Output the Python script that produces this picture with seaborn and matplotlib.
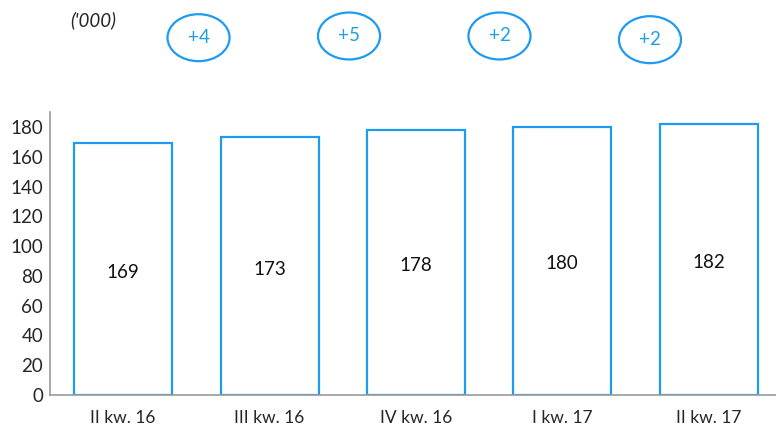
import pandas as pd
import seaborn as sns
import matplotlib.pyplot as plt
from matplotlib.patches import Ellipse
import matplotlib.transforms as mtransforms

# data
quarters = ['II kw. 16', 'III kw. 16', 'IV kw. 16', 'I kw. 17', 'II kw. 17']
values = [169, 173, 178, 180, 182]
changes = ['+4', '+5', '+2', '+2']

df = pd.DataFrame({'quarter': quarters, 'value': values})

sns.set_style('white')
plt.rcParams['font.family'] = ['Lato', 'DejaVu Sans']

blue = '#1E9BF0'

fig = plt.figure(figsize=(7.76, 4.28), dpi=100)
ax = fig.add_axes([0.0644, 0.0771, 0.9356, 0.661])

sns.barplot(data=df, x='quarter', y='value', color='white', edgecolor=blue,
            linewidth=1.6, width=0.67, ax=ax)

# value labels inside the bars
for i, v in enumerate(values):
    ax.text(i, v / 2 - 2, str(v), ha='center', va='center', fontsize=13.5, color='#111111')

ax.set_ylim(0, 190)
ax.set_xlim(-0.5, 4.46)
ax.set_yticks(range(0, 181, 20))
ax.set_xlabel('')
ax.set_ylabel('')
ax.tick_params(axis='y', labelsize=13.5, length=0, pad=5)
ax.tick_params(axis='x', labelsize=12.5, length=0, pad=11)
for s in ['top', 'right']:
    ax.spines[s].set_visible(False)
for s in ['left', 'bottom']:
    ax.spines[s].set_color('#999999')
    ax.spines[s].set_linewidth(1.2)

# change bubbles between bars (slightly spread out to the right, as in the original)
trans = mtransforms.blended_transform_factory(ax.transData, ax.transAxes)
ys = [1.263, 1.269, 1.269, 1.256]
for i, (c, y) in enumerate(zip(changes, ys)):
    x = 0.515 + i * 1.028
    e = Ellipse((x, y), width=0.424, height=0.166, transform=trans,
                fill=False, edgecolor=blue, linewidth=1.6, clip_on=False)
    ax.add_patch(e)
    ax.text(x, y, c, transform=trans, ha='center', va='center',
            fontsize=13.5, color='#1EA0E6', clip_on=False)

fig.text(0.091, 0.953, "('000)", fontsize=13.5, style='italic', ha='left', va='center')

plt.savefig('out.png', dpi=100)
